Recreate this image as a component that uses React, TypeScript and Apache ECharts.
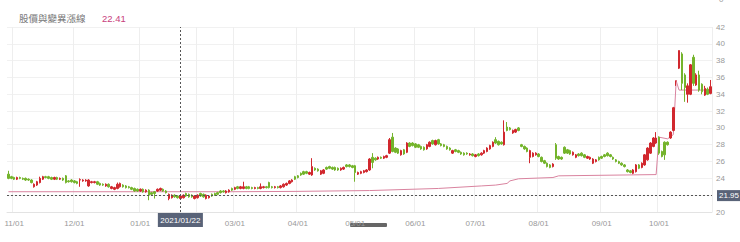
import React, { useEffect, useRef } from "react";
import * as echarts from "echarts";

// ---------- data ----------
const TITLE = "股價與變異漲線";
const TITLE_VALUE = "22.41";
const CROSS_DATE = "2021/01/22";
const CROSS_PRICE = 21.95;

const FIRST_DAY = "2020/10/29";
const LAST_DAY = "2021/10/28";
const HOLIDAYS = [
  "2021/01/01", "2021/02/08", "2021/02/09", "2021/02/10", "2021/02/11", "2021/02/12",
  "2021/02/15", "2021/02/16", "2021/03/01", "2021/04/02", "2021/04/05", "2021/06/14",
  "2021/09/20", "2021/09/21", "2021/10/11",
];

const Y_MIN = 20;
const Y_MAX = 42;
const Y_STEP = 2;

// [open, close, low, high]
const ohlc: number[][] = [
  [24.5, 24.0, 23.9, 24.9], [24.2, 24.0, 23.9, 24.3], [24.1, 23.9, 23.8, 24.2], [23.9, 24.1, 23.8, 24.2],
  [24.1, 24.0, 23.9, 24.2], [24.0, 23.9, 23.8, 24.1], [24.0, 23.8, 23.7, 24.1], [23.9, 23.8, 23.7, 24.0],
  [23.8, 23.5, 23.4, 23.9], [23.0, 23.3, 22.9, 23.4], [23.2, 23.6, 23.1, 23.7], [23.5, 24.0, 23.4, 24.2],
  [23.9, 24.2, 23.8, 24.3], [24.2, 24.1, 24.0, 24.3], [24.2, 24.0, 23.9, 24.3], [24.1, 23.9, 23.8, 24.2],
  [23.9, 24.1, 23.8, 24.2], [24.1, 23.9, 23.8, 24.2], [23.9, 24.0, 23.8, 24.1], [24.0, 23.8, 23.7, 24.1],
  [24.3, 23.5, 23.4, 24.4], [23.7, 23.6, 23.5, 23.8], [23.8, 23.6, 23.5, 23.9], [23.7, 23.5, 23.4, 23.8],
  [23.6, 23.4, 23.3, 23.7], [23.8, 23.85, 23.0, 24.0], [23.7, 23.8, 23.6, 23.9], [23.7, 23.8, 23.6, 23.9],
  [23.1, 23.8, 23.0, 23.9], [23.5, 23.6, 23.4, 23.7], [23.5, 23.6, 23.4, 23.7], [23.6, 23.3, 23.2, 23.7],
  [23.4, 23.2, 23.1, 23.5], [23.3, 23.2, 23.1, 23.4], [23.1, 23.3, 23.0, 23.4], [23.3, 23.0, 22.9, 23.4],
  [22.8, 23.0, 22.7, 23.1], [22.7, 22.9, 22.6, 23.0], [22.8, 23.3, 22.7, 23.5], [23.0, 23.4, 22.9, 23.5],
  [23.2, 23.0, 22.9, 23.3], [23.1, 22.9, 22.8, 23.2], [23.0, 22.9, 22.8, 23.1], [22.9, 22.7, 22.6, 23.0],
  [22.8, 22.5, 22.4, 22.9], [22.7, 22.5, 22.4, 22.8], [22.5, 22.7, 22.4, 22.8], [22.7, 22.4, 22.3, 22.8],
  [22.4, 22.6, 22.3, 22.7], [22.6, 22.0, 21.4, 22.7], [22.3, 22.1, 22.0, 22.4], [22.4, 22.2, 21.6, 22.5],
  [22.5, 22.7, 22.4, 22.8], [22.6, 22.8, 22.5, 22.9], [22.7, 22.5, 22.4, 22.8], [22.5, 22.3, 22.2, 22.6],
  [21.6, 22.1, 21.4, 22.2], [21.7, 22.0, 21.6, 22.1], [22.0, 21.8, 21.7, 22.1], [21.9, 21.7, 21.6, 22.0],
  [21.6, 21.9, 21.5, 22.0], [21.7, 22.0, 21.6, 22.1], [22.2, 21.9, 21.8, 22.3], [22.1, 21.8, 21.7, 22.2],
  [22.0, 21.8, 21.7, 22.1], [21.6, 21.9, 21.5, 22.0], [21.7, 22.0, 21.6, 22.1], [22.2, 21.9, 21.8, 22.3],
  [22.1, 21.8, 21.7, 22.2], [21.6, 22.0, 21.5, 22.1], [21.7, 21.9, 21.6, 22.0], [22.1, 21.9, 21.8, 22.2],
  [22.2, 22.0, 21.9, 22.3], [22.3, 22.1, 22.0, 22.4], [22.5, 22.3, 22.2, 22.6], [22.5, 22.4, 22.3, 22.6],
  [22.3, 22.5, 22.2, 22.6], [22.4, 22.6, 22.3, 22.7], [22.8, 22.6, 22.5, 22.9], [22.7, 22.9, 22.6, 23.0],
  [23.0, 22.8, 22.7, 23.1], [22.8, 23.0, 22.7, 23.1], [22.8, 23.0, 22.7, 23.6], [23.0, 22.8, 22.7, 23.1],
  [23.0, 22.8, 22.7, 23.1], [22.9, 22.8, 22.7, 23.0], [22.8, 22.9, 22.7, 23.0], [22.9, 22.8, 22.7, 23.0],
  [22.8, 23.0, 22.7, 23.4], [22.9, 23.0, 22.8, 23.1], [23.0, 22.9, 22.8, 23.1], [23.5, 22.9, 22.8, 23.6],
  [23.0, 22.9, 22.8, 23.1], [22.9, 23.0, 22.8, 23.1], [23.0, 22.9, 22.8, 23.1], [22.9, 23.1, 22.8, 23.2],
  [23.0, 23.3, 22.9, 23.4], [23.2, 23.4, 23.1, 23.5], [23.4, 23.7, 23.3, 23.8], [23.6, 23.8, 23.5, 23.9],
  [24.2, 23.9, 23.8, 24.3], [24.3, 24.1, 24.0, 24.4], [24.6, 24.4, 24.3, 24.7], [24.8, 24.5, 24.4, 24.9],
  [24.8, 24.6, 24.5, 24.9], [24.5, 24.7, 24.4, 24.8], [24.4, 25.4, 24.3, 26.4], [25.2, 25.0, 24.9, 25.3],
  [25.1, 24.9, 24.8, 25.2], [24.5, 24.9, 24.4, 25.0], [24.6, 25.0, 24.5, 25.1], [25.3, 25.1, 25.0, 25.4],
  [25.4, 25.2, 25.1, 25.5], [25.3, 25.1, 25.0, 25.4], [25.3, 25.0, 24.9, 25.4], [25.2, 25.0, 24.9, 25.3],
  [25.0, 25.2, 24.9, 25.3], [25.1, 25.3, 25.0, 25.4], [25.6, 25.4, 25.3, 25.7], [25.6, 25.4, 25.3, 25.7],
  [25.5, 25.3, 25.2, 25.6], [25.5, 24.7, 23.6, 25.6], [24.5, 24.7, 24.4, 24.8], [24.6, 24.8, 24.5, 24.9],
  [24.7, 24.9, 24.6, 25.0], [24.8, 25.0, 24.7, 25.1], [25.0, 26.3, 24.9, 26.4], [26.5, 25.9, 25.2, 27.0],
  [26.4, 26.2, 26.1, 26.5], [26.3, 26.5, 26.2, 26.6], [26.5, 26.4, 26.3, 26.6], [26.4, 26.6, 26.3, 26.7],
  [26.5, 26.7, 26.4, 26.8], [27.0, 28.6, 26.9, 28.8], [28.9, 27.2, 27.1, 29.4], [27.6, 27.1, 27.0, 27.7],
  [27.5, 27.0, 26.9, 27.6], [26.8, 27.3, 26.7, 27.4], [27.4, 26.9, 26.8, 27.5], [27.1, 28.2, 27.0, 28.3],
  [28.2, 27.8, 27.7, 28.3], [28.2, 27.9, 27.8, 28.3], [28.1, 27.7, 27.6, 28.2], [28.0, 27.7, 27.6, 28.1],
  [27.8, 27.5, 27.4, 27.9], [27.7, 27.4, 27.3, 27.8], [27.5, 28.0, 27.4, 28.1], [27.8, 28.3, 27.7, 28.4],
  [28.5, 28.1, 28.0, 28.6], [28.0, 28.5, 27.9, 28.6], [28.6, 28.1, 28.0, 28.7], [28.1, 27.9, 27.8, 28.2],
  [28.0, 27.8, 27.7, 28.1], [27.8, 27.5, 27.4, 27.9], [27.6, 27.4, 27.3, 27.7], [27.0, 27.3, 26.9, 27.4],
  [27.4, 27.2, 27.1, 27.5], [27.3, 27.1, 27.0, 27.4], [27.1, 26.9, 26.8, 27.2], [27.0, 26.8, 26.7, 27.1],
  [27.0, 26.9, 26.8, 27.1], [26.8, 26.9, 26.7, 27.0], [26.9, 26.7, 26.6, 27.0], [26.6, 26.8, 26.5, 26.9],
  [26.9, 26.7, 26.6, 27.0], [26.8, 27.0, 26.7, 27.1], [27.0, 27.3, 26.9, 27.4], [27.2, 27.6, 27.1, 27.7],
  [27.5, 27.9, 27.4, 28.0], [27.8, 28.3, 27.7, 28.4], [28.6, 28.2, 28.1, 28.9], [28.4, 28.0, 27.9, 28.5],
  [28.3, 28.1, 28.0, 28.4], [28.0, 29.5, 27.9, 30.9], [30.1, 29.7, 29.6, 30.7], [30.0, 29.8, 29.7, 30.1],
  [29.4, 29.7, 29.3, 29.8], [29.5, 29.8, 29.4, 29.9], [30.0, 29.7, 29.6, 30.1], [28.0, 27.8, 27.7, 28.1],
  [27.8, 27.5, 27.4, 27.9], [27.6, 27.2, 27.1, 27.7], [26.5, 27.3, 25.8, 27.4], [26.6, 27.0, 26.5, 27.1],
  [26.8, 27.0, 26.7, 27.1], [26.9, 26.6, 26.5, 27.0], [26.5, 26.0, 25.9, 26.6], [26.1, 25.8, 25.7, 26.2],
  [25.8, 25.4, 25.3, 25.9], [25.6, 25.3, 25.2, 25.7], [25.4, 25.7, 25.3, 25.8], [28.0, 26.4, 26.2, 28.2],
  [26.6, 26.3, 26.2, 26.7], [26.5, 26.3, 26.2, 26.6], [27.7, 27.0, 26.9, 27.8], [27.4, 27.0, 26.9, 27.5],
  [27.3, 26.9, 26.8, 27.4], [26.8, 27.1, 26.7, 27.2], [26.5, 26.8, 26.4, 26.9], [26.9, 26.7, 26.6, 27.0],
  [27.0, 26.7, 26.6, 27.1], [26.8, 26.5, 26.4, 26.9], [26.4, 26.6, 26.3, 26.7], [26.3, 26.5, 26.2, 26.6],
  [25.8, 26.3, 25.7, 26.4], [26.0, 26.2, 25.9, 26.3], [26.5, 26.2, 26.1, 26.6], [26.6, 26.4, 26.3, 26.7],
  [26.8, 26.6, 26.5, 26.9], [27.0, 26.7, 26.6, 27.1], [26.8, 26.6, 26.5, 26.9], [26.5, 26.3, 26.2, 26.6],
  [26.2, 26.0, 25.9, 26.3], [26.0, 25.8, 25.7, 26.1], [25.8, 25.6, 25.5, 25.9], [25.6, 25.4, 25.3, 25.7],
  [25.0, 24.8, 24.7, 25.1], [24.9, 24.7, 24.6, 25.0], [24.6, 25.0, 24.5, 25.1], [24.8, 25.6, 24.7, 25.7],
  [25.6, 25.2, 25.1, 25.7], [25.3, 25.8, 25.2, 25.9], [25.6, 26.8, 25.5, 26.9], [26.2, 27.6, 26.1, 27.7],
  [27.0, 28.2, 26.9, 28.3], [27.8, 28.8, 27.7, 28.9], [28.2, 28.8, 28.1, 29.5], [28.9, 27.0, 26.8, 29.0],
  [27.2, 26.6, 26.5, 27.3], [28.3, 26.8, 26.2, 28.4], [28.3, 28.0, 27.9, 28.4], [28.8, 29.5, 28.7, 29.6],
  [29.7, 32.4, 29.6, 32.5], [35.6, 35.6, 35.0, 35.6], [37.1, 39.2, 37.0, 39.2], [38.8, 35.3, 34.5, 39.0],
  [36.3, 34.8, 33.1, 36.5], [34.0, 35.0, 33.0, 35.3], [34.0, 37.5, 33.9, 37.6], [38.4, 35.3, 35.0, 38.7],
  [35.1, 36.3, 35.0, 36.5], [36.3, 34.5, 34.3, 36.8], [35.2, 34.3, 34.0, 35.3], [33.9, 34.7, 33.8, 35.0],
  [34.6, 34.0, 33.9, 34.8], [34.1, 34.9, 34.0, 35.7],
];

// pink line: trading-day index -> value
const pinkIdx = [0, 78, 100, 126, 150, 165, 170, 174, 175, 178, 190, 192, 226, 227, 230, 232, 233, 234, 245];
const pinkVal = [22.41, 22.41, 22.45, 22.55, 22.8, 23.1, 23.2, 23.4, 23.7, 23.95, 24.1, 24.3, 24.45, 28.9, 28.7, 29.2, 35.6, 34.5, 34.5];

// ---------- helpers ----------
function fmt(d: Date) {
  const m = String(d.getUTCMonth() + 1).padStart(2, "0");
  const dd = String(d.getUTCDate()).padStart(2, "0");
  return `${d.getUTCFullYear()}/${m}/${dd}`;
}
function tradingDays(first: string, last: string, holidays: string[]) {
  const [y1, m1, d1] = first.split("/").map(Number);
  const out: string[] = [];
  const d = new Date(Date.UTC(y1, m1 - 1, d1));
  const hs = new Set(holidays);
  while (fmt(d) <= last) {
    const wd = d.getUTCDay();
    const s = fmt(d);
    if (wd !== 0 && wd !== 6 && !hs.has(s)) out.push(s);
    d.setUTCDate(d.getUTCDate() + 1);
  }
  return out;
}
const dates = tradingDays(FIRST_DAY, LAST_DAY, HOLIDAYS);
const crossIdx = dates.indexOf(CROSS_DATE);
const isMonthStart = (i: number) =>
  i > 0 && i < dates.length && dates[i].slice(5, 7) !== dates[i - 1].slice(5, 7);
// labels covered by the crosshair's date box are not shown
const showLabel = (i: number) => isMonthStart(i) && Math.abs(i - crossIdx) > 8;

const UP = "#d1282e";
const DOWN = "#74b42c";
const PINK = "#d9839f";
const BOX = "#596378";
const NUM_FONT = "Liberation Sans, Arial, sans-serif";

export default function App() {
  const ref = useRef<HTMLDivElement>(null);
  useEffect(() => {
    if (!ref.current) return;
    const chart = echarts.init(ref.current, undefined, { renderer: "svg" });
    chart.setOption({
      animation: false,
      title: [
        {
          text: TITLE,
          left: 14,
          top: 8,
          textStyle: { fontSize: 9.5, color: "#777", fontWeight: "normal", fontFamily: "Noto Sans CJK TC" },
        },
        {
          text: TITLE_VALUE,
          left: 97,
          top: 8,
          textStyle: { fontSize: 9.5, color: "#c8407c", fontWeight: "normal", fontFamily: NUM_FONT },
        },
      ],
      grid: { left: 7, right: 28, top: 27, bottom: 30 },
      xAxis: {
        type: "category",
        data: dates,
        boundaryGap: true,
        axisLine: { lineStyle: { color: "#e3e3e3" } },
        axisTick: { show: false },
        axisLabel: {
          interval: (i: number) => showLabel(i),
          formatter: (v: string) => v.slice(5, 7) + "/01",
          fontSize: 8,
          color: "#999",
          margin: 7,
          fontFamily: NUM_FONT,
        },
        splitLine: {
          show: true,
          interval: (i: number) => isMonthStart(i),
          lineStyle: { color: "#eeeeee", width: 1 },
        },
      },
      yAxis: {
        type: "value",
        position: "right",
        min: Y_MIN,
        max: Y_MAX,
        interval: Y_STEP,
        axisLine: { show: false },
        axisTick: { show: false },
        axisLabel: {
          fontSize: 8,
          color: "#999",
          margin: 4,
          fontFamily: NUM_FONT,
          formatter: (v: number) => (Math.abs(v - CROSS_PRICE) < 0.6 ? "" : String(v)),
        },
        splitLine: { lineStyle: { color: "#f1f1f1", width: 1 } },
      },
      series: [
        {
          type: "line",
          data: pinkIdx.map((i, k) => [i, pinkVal[k]]),
          symbol: "none",
          lineStyle: { color: PINK, width: 1 },
          z: 1,
        },
        {
          type: "candlestick",
          data: ohlc,
          barWidth: 2,
          z: 2,
          itemStyle: {
            color: UP,
            color0: DOWN,
            borderColor: UP,
            borderColor0: DOWN,
            borderColorDoji: UP,
            borderWidth: 1,
          },
          markLine: {
            silent: true,
            symbol: ["none", "none"],
            lineStyle: { type: [2, 2], color: "#555", width: 1 },
            data: [
              {
                yAxis: CROSS_PRICE,
                label: {
                  show: true,
                  position: "end",
                  formatter: String(CROSS_PRICE),
                  backgroundColor: BOX,
                  color: "#fff",
                  fontSize: 8,
                  fontFamily: NUM_FONT,
                  padding: [1.5, 2],
                  distance: 5,
                },
              },
              {
                xAxis: CROSS_DATE,
                label: {
                  show: true,
                  position: "start",
                  formatter: CROSS_DATE,
                  backgroundColor: BOX,
                  color: "#fff",
                  fontSize: 8,
                  fontFamily: NUM_FONT,
                  padding: [3, 2.5],
                  distance: 1,
                },
              },
            ],
          },
        },
      ],
      graphic: [
        {
          type: "rect",
          shape: { x: 350, y: 223, width: 37, height: 4, r: 1 },
          style: { fill: "#666" },
        },
        {
          type: "text",
          x: 719,
          y: -5,
          style: { text: "0", fontSize: 8, fill: "#999", fontFamily: NUM_FONT },
        },
      ],
    });
    return () => chart.dispose();
  }, []);
  return (
    <div
      ref={ref}
      style={{ position: "fixed", left: 0, top: 0, width: 740, height: 242, background: "#fff" }}
    />
  );
}
